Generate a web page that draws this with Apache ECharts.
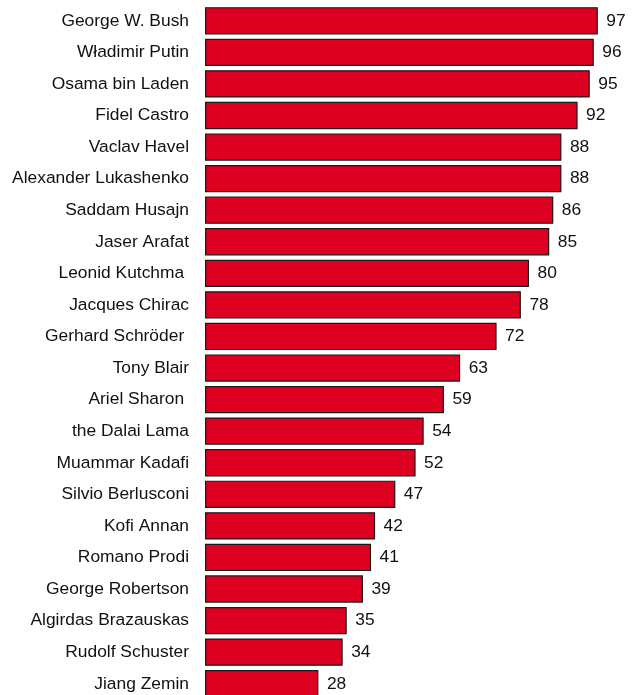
<!DOCTYPE html>
<html>
<head>
<meta charset="utf-8">
<script src="https://cdn.jsdelivr.net/npm/echarts@6/dist/echarts.min.js"></script>
<style>
html,body{margin:0;padding:0;background:#fff;}
#chart{width:640px;height:695px;}
</style>
</head>
<body>
<div id="chart"></div>
<script>
const categories = [
  "George W. Bush", "Władimir Putin", "Osama bin Laden", "Fidel Castro",
  "Vaclav Havel", "Alexander Lukashenko", "Saddam Husajn", "Jaser Arafat",
  "Leonid Kutchma ", "Jacques Chirac", "Gerhard Schröder ", "Tony Blair",
  "Ariel Sharon ", "the Dalai Lama", "Muammar Kadafi", "Silvio Berlusconi",
  "Kofi Annan", "Romano Prodi", "George Robertson", "Algirdas Brazauskas",
  "Rudolf Schuster", "Jiang Zemin"
];
const values = [97, 96, 95, 92, 88, 88, 86, 85, 80, 78, 72, 63, 59, 54, 52, 47, 42, 41, 39, 35, 34, 28];

const chart = echarts.init(document.getElementById('chart'), null, {renderer: 'canvas'});
chart.setOption({
  animation: false,
  backgroundColor: '#ffffff',
  grid: {left: 205, width: 405, top: 5, height: 694.5, containLabel: false, outerBoundsMode: 'none'},
  xAxis: {
    type: 'value', min: 0, max: 100, show: false
  },
  yAxis: {
    type: 'category', data: categories, inverse: true,
    axisLine: {show: false}, axisTick: {show: false}, splitLine: {show: false},
    axisLabel: {
      margin: 16, color: '#111', fontSize: 17.4,
      fontFamily: '"Liberation Sans", Arial, sans-serif'
    }
  },
  series: [{
    type: 'bar',
    data: values,
    barWidth: 27.3,
    itemStyle: {color: '#DE0021', borderColor: '#1a1a1a', borderWidth: 1.2},
    label: {
      show: true, position: 'right', distance: 8.5, color: '#111', fontSize: 17.4,
      fontFamily: '"Liberation Sans", Arial, sans-serif'
    }
  }]
});
</script>
</body>
</html>
